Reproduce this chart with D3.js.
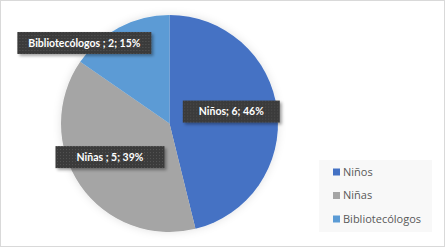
<!DOCTYPE html>
<html>
<head>
<meta charset="utf-8">
<script src="https://cdn.jsdelivr.net/npm/d3@7"></script>
<style>
  html, body { margin: 0; padding: 0; background: #fff; }
  svg { display: block; }
</style>
</head>
<body>
<div id="chart"></div>
<script>
// Pie of participants
const categories = ["Niños", "Niñas", "Bibliotecólogos"];
const values = [6, 5, 2];
const percents = ["46%", "39%", "15%"];
const labelSep = ["; ", " ; ", " ; "];
const colors = ["#4472C4", "#A5A5A5", "#5B9BD5"];

const W = 445, H = 247;
const cx = 169.5, cy = 123.5, R = 108.5;

const svg = d3.select("#chart").append("svg")
  .attr("width", W).attr("height", H);

// chart frame
svg.append("rect")
  .attr("x", 0.5).attr("y", 0.5)
  .attr("width", W - 1).attr("height", H - 1)
  .attr("fill", "#fff").attr("stroke", "#d9d9d9");

const defs = svg.append("defs");
const pieShadow = defs.append("filter").attr("id", "pieShadow")
  .attr("x", "-20%").attr("y", "-20%").attr("width", "140%").attr("height", "140%");
pieShadow.append("feDropShadow").attr("dx", 0).attr("dy", 0)
  .attr("stdDeviation", 4).attr("flood-color", "#000").attr("flood-opacity", 0.12);

const boxShadow = defs.append("filter").attr("id", "boxShadow")
  .attr("x", "-20%").attr("y", "-40%").attr("width", "140%").attr("height", "180%");
boxShadow.append("feDropShadow").attr("dx", 2).attr("dy", 2)
  .attr("stdDeviation", 1.5).attr("flood-color", "#000").attr("flood-opacity", 0.35);

// dotted texture on data label boxes
const pat = defs.append("pattern").attr("id", "dots")
  .attr("width", 3).attr("height", 3).attr("patternUnits", "userSpaceOnUse");
pat.append("rect").attr("width", 3).attr("height", 3).attr("fill", "#3a3a3a");
pat.append("rect").attr("x", 1).attr("y", 1).attr("width", 1).attr("height", 1).attr("fill", "#555");

const pie = d3.pie().sort(null).value(d => d.value);
const arcs = pie(categories.map((c, i) => ({cat: c, value: values[i], i})));
const arc = d3.arc().innerRadius(0).outerRadius(R);

const g = svg.append("g").attr("transform", `translate(${cx},${cy})`);
g.append("g").attr("filter", "url(#pieShadow)")
  .selectAll("path")
  .data(arcs)
  .join("path")
  .attr("d", arc)
  .attr("fill", d => colors[d.data.i]);

// data labels (best-fit style placement around each slice)
const labelPos = [
  {r: 0.58, da: -0.07, w: 97},
  {r: 0.63, da: 0.09, w: 109},
  {r: 1.08, da: -0.33, w: 134}
];
const labels = g.append("g");
arcs.forEach(d => {
  const p = labelPos[d.data.i];
  const a = (d.startAngle + d.endAngle) / 2 + p.da;
  const x = Math.sin(a) * R * p.r, y = -Math.cos(a) * R * p.r;
  const txt = d.data.cat + labelSep[d.data.i] + d.data.value + "; " + percents[d.data.i];
  const lg = labels.append("g").attr("transform", `translate(${x},${y})`);
  lg.append("rect")
    .attr("x", -p.w / 2).attr("y", -11)
    .attr("width", p.w).attr("height", 22)
    .attr("fill", "url(#dots)")
    .attr("filter", "url(#boxShadow)");
  lg.append("text")
    .attr("text-anchor", "middle").attr("dy", "0.35em")
    .attr("font-family", "Lato, 'Open Sans', sans-serif")
    .attr("font-weight", 700).attr("font-size", "10.5px")
    .attr("fill", "#fff").text(txt);
});

// legend
const leg = svg.append("g").attr("transform", "translate(319,160)");
leg.append("rect").attr("width", 113).attr("height", 72).attr("fill", "#f8f8f8");
const item = leg.selectAll("g.item")
  .data(categories)
  .join("g").attr("class", "item")
  .attr("transform", (d, i) => `translate(14,${12 + i * 23.5})`);
item.append("rect").attr("x", 0).attr("y", -3.5).attr("width", 7).attr("height", 7)
  .attr("fill", (d, i) => colors[i]);
item.append("text").attr("x", 10).attr("dy", "0.35em")
  .attr("font-family", "'Open Sans', sans-serif").attr("font-size", "11px")
  .attr("fill", "#595959").text(d => d);
</script>
</body>
</html>
